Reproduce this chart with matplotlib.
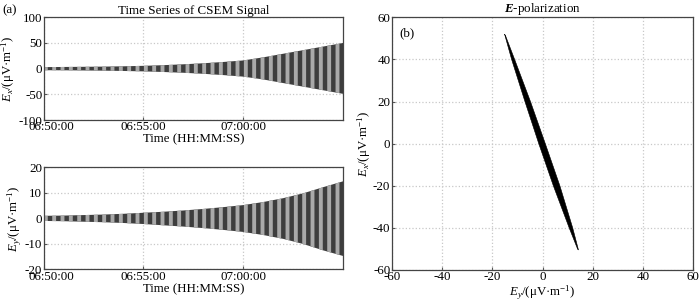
import matplotlib
matplotlib.use("Agg")
import matplotlib.pyplot as plt
import matplotlib.transforms as mtransforms
import pandas as pd

plt.rcParams['font.family'] = ['Liberation Serif', 'DejaVu Serif']
plt.rcParams['mathtext.fontset'] = 'custom'
plt.rcParams['mathtext.rm'] = 'Liberation Serif'
plt.rcParams['mathtext.it'] = 'Liberation Serif:italic'
plt.rcParams['mathtext.bf'] = 'Liberation Serif:italic:bold'
plt.rcParams['axes.unicode_minus'] = False
plt.rcParams['hatch.linewidth'] = 2.8

# ---------------- data ----------------
env_times = ["06:50:00", "06:51:00", "06:52:00", "06:53:00", "06:54:00", "06:55:00",
             "06:56:00", "06:57:00", "06:58:00", "06:59:00", "07:00:00", "07:01:00",
             "07:02:00", "07:03:00", "07:04:00", "07:05:00"]
ex_upper = [3.0, 3.3, 3.6, 4.0, 4.6, 5.5, 6.8, 8.5, 10.5, 13.0, 16.0, 22.0, 29.0, 36.0, 43.0, 50.0]
ex_lower = [-3.0, -3.2, -3.5, -3.9, -4.5, -5.3, -6.5, -8.0, -10.0, -12.5, -15.5, -21.0, -28.0, -35.0, -42.0, -49.0]
ey_upper = [1.0, 1.1, 1.3, 1.5, 1.8, 2.2, 2.6, 3.1, 3.7, 4.4, 5.2, 6.4, 7.9, 9.8, 12.2, 14.5]
ey_lower = [-1.0, -1.1, -1.3, -1.5, -1.8, -2.2, -2.7, -3.2, -3.8, -4.5, -5.3, -6.5, -8.0, -10.0, -12.5, -14.7]

# polarization trace outline (Ey, Ex)
pol_ey = [-15.1, -14.7, -11.1, -4.8, 1.1, 6.9, 12.0, 14.3, 14.0, 10.6, 4.3, -1.5, -7.0, -12.3, -15.1]
pol_ex = [52.0, 51.2, 40.0, 20.0, 0.0, -20.0, -40.0, -50.5, -50.2, -40.0, -20.0, 0.0, 20.0, 40.0, 52.0]

time_ticks = ["06:50:00", "06:55:00", "07:00:00"]
ex_ticks = [-100, -50, 0, 50, 100]
ey_ticks = [-20, -10, 0, 10, 20]
pol_ticks = [-60, -40, -20, 0, 20, 40, 60]

# ---------------- figure ----------------
W, H = 700, 301
fig = plt.figure(figsize=(W / 100, H / 100), dpi=100)

ax1 = fig.add_axes([0.0624, 0.6013, 0.4276, 0.3412])
ax2 = fig.add_axes([0.0624, 0.1047, 0.4276, 0.3395])
ax3 = fig.add_axes([0.5596, 0.1030, 0.4309, 0.8395])

t = pd.to_datetime(["2000-01-01 " + s for s in env_times])
tt = pd.to_datetime(["2000-01-01 " + s for s in time_ticks])
fs = 8.8
grid_kw = dict(color='#c8c8c8', linestyle=':', linewidth=0.9)

for ax, up, lo, yt, lab in [(ax1, ex_upper, ex_lower, ex_ticks, r'$E_x$/(μV·m$^{-1}$)'),
                            (ax2, ey_upper, ey_lower, ey_ticks, r'$E_y$/(μV·m$^{-1}$)')]:
    ax.fill_between(t, lo, up, facecolor='#3d3d3d', edgecolor='#a9a9a9',
                    hatch='||', linewidth=0, zorder=2)
    ax.set_xlim(t[0], t[-1])
    ax.set_ylim(yt[0], yt[-1])
    ax.set_xticks(tt)
    ax.set_xticklabels(time_ticks)
    ax.set_yticks(yt)
    ax.grid(True, **grid_kw)
    ax.set_axisbelow(True)
    ax.set_ylabel(lab, fontsize=fs + 0.5, labelpad=1)
    ax.set_xlabel('Time (HH:MM:SS)', fontsize=fs + 0.5, labelpad=0)
    ax.tick_params(direction='in', length=2.5, labelsize=fs + 0.6, pad=1, color='#555555')
    for sp in ax.spines.values():
        sp.set_color('#444444')
        sp.set_linewidth(0.9)
    # shift first date label to the right as in the reference
    lbl = ax.get_xticklabels()[0]
    lbl.set_transform(lbl.get_transform() + mtransforms.ScaledTranslation(8 / 100, 0, fig.dpi_scale_trans))

ax1.set_title('Time Series of CSEM Signal', fontsize=fs + 0.6, pad=2)
fig.text(0.004, 0.965, '(a)', fontsize=fs + 0.6, va='center', ha='left')

ax3.fill(pol_ey, pol_ex, color='black', linewidth=0.4, zorder=2)
ax3.set_xlim(-60, 60)
ax3.set_ylim(-60, 60)
ax3.set_xticks(pol_ticks)
ax3.set_yticks(pol_ticks)
ax3.grid(True, **grid_kw)
ax3.set_axisbelow(True)
ax3.tick_params(direction='in', length=2.5, labelsize=fs + 0.6, pad=1, color='#555555')
for sp in ax3.spines.values():
    sp.set_color('#444444')
    sp.set_linewidth(0.9)
ax3.set_title(r'$\mathbf{E}$-polarization', fontsize=fs + 0.6, pad=2)
ax3.set_xlabel(r'$E_y$/(μV·m$^{-1}$)', fontsize=fs + 0.5, labelpad=0)
ax3.set_ylabel(r'$E_x$/(μV·m$^{-1}$)', fontsize=fs + 0.5, labelpad=0)
ax3.text(0.025, 0.96, '(b)', transform=ax3.transAxes, fontsize=fs + 0.6, va='top', ha='left')

fig.savefig('out.png', dpi=100)
